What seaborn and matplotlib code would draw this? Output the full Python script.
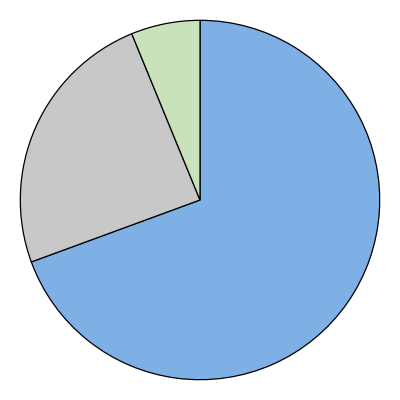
import matplotlib
matplotlib.use("Agg")
import matplotlib.pyplot as plt
import seaborn as sns

# Slice shares (clockwise from 12 o'clock)
labels = ["Blue", "Gray", "Green"]
shares = [69.4, 24.4, 6.2]
colors = ["#7eb0e6", "#c8c8c8", "#c8e2bc"]

sns.set_theme(style="white")

fig = plt.figure(figsize=(4, 4), dpi=100)
ax = fig.add_axes([0, 0, 1, 1])
ax.pie(shares, colors=colors, startangle=90, counterclock=False,
       radius=1.0, wedgeprops=dict(edgecolor="black", linewidth=0.9))
ax.set_aspect("equal")
ax.set_xlim(-1.113, 1.113)
ax.set_ylim(-1.113, 1.113)
ax.axis("off")

fig.savefig("out.png", dpi=100, facecolor="white")
